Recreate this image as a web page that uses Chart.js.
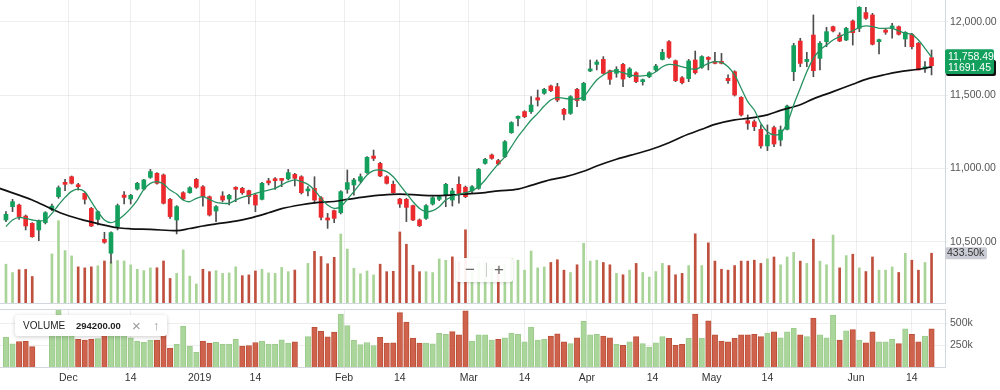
<!DOCTYPE html>
<html>
<head>
<meta charset="utf-8">
<script src="https://cdn.jsdelivr.net/npm/chart.js@4.4.0/dist/chart.umd.min.js"></script>
<style>
  html, body { margin: 0; padding: 0; background: #fff; }
  body { width: 1000px; height: 390px; position: relative; overflow: hidden; font-family: "Liberation Sans", Arial, sans-serif; }
  #priceChart { position: absolute; left: 0; top: 0; }
  #volumeChart { position: absolute; left: 0; top: 305px; }
  .legend-box { position: absolute; left: 15px; top: 315px; width: 152px; height: 21px; background: #fff; border-radius: 3px; box-shadow: 0 1px 4px rgba(0,0,0,0.2); color: #222; }
  .legend-box span { position: absolute; top: 0; line-height: 21px; white-space: nowrap; }
  .zoom-box { position: absolute; left: 456px; top: 258px; width: 57px; height: 24px; background: rgba(255,255,255,0.92); border-radius: 3px; box-shadow: 0 1px 3px rgba(0,0,0,0.15); color: #666; }
  .zoom-box span { position: absolute; top: 0; line-height: 24px; }
</style>
</head>
<body>
<canvas id="priceChart" width="1000" height="304"></canvas>
<canvas id="volumeChart" width="1000" height="85"></canvas>
<div class="legend-box">
  <span style="left:8px;font-size:10px">VOLUME</span>
  <span style="left:61px;font-size:9.5px;font-weight:bold">294200.00</span>
  <span style="left:117px;font-size:15px;color:#999">×</span>
  <span style="left:138px;font-size:13px;color:#999">↑</span>
</div>
<div class="zoom-box">
  <span style="left:9px;font-size:17px">−</span>
  <span style="left:30px;top:5px;width:1px;height:14px;background:#ccc"></span>
  <span style="left:38px;font-size:17px">+</span>
</div>
<script>
// daily candles, one slot per trading day
const opens = [10648,10739,10750,10675,10625,10580,10630,10721,10807,10903,
  10943,10887,10830,10727,10652,10516,10421,10603,10818,10791,
  10859,10859,10939,10966,10955,10789,10648,10834,10834,10925,
  10875,10807,10709,10812,10791,10866,10864,10848,10818,10789,
  10911,10928,10930,10928,10959,10943,10846,10864,10800,10662,
  10712,10698,10857,10887,10914,10971,11084,11034,10943,10891,
  10791,10789,10746,10648,10659,10757,10789,10818,10784,10891,
  10871,10846,10864,11034,11091,11053,11080,11243,11341,11387,
  11387,11482,11512,11562,11557,11403,11375,11539,11466,11664,
  11709,11743,11666,11648,11709,11625,11652,11591,11625,11671,
  11743,11864,11734,11618,11612,11739,11689,11755,11728,11728,
  11614,11659,11484,11325,11318,11266,11153,11278,11193,11266,
  11659,11868,11728,11909,11750,11864,11966,11909,11875,12005,
  11955,12062,12046,11864,11943,11955,11966,11882,11914,11853,
  11678,11755];
const highs = [10705,10789,10757,10682,10630,10648,10705,10757,10880,10925,
  10948,10898,10834,10734,10709,10564,10568,10757,10841,10823,
  10905,10925,10993,10971,10962,10796,10746,10841,10875,10932,
  10882,10812,10746,10841,10823,10875,10871,10852,10825,10905,
  10932,10937,10932,10993,10966,10950,10875,10943,10807,10693,
  10716,10848,10989,10932,10962,11080,11125,11041,10950,10914,
  10796,10796,10750,10655,10753,10807,10814,10898,10864,10943,
  10880,10882,11000,11068,11098,11062,11189,11318,11359,11393,
  11489,11534,11546,11568,11580,11409,11496,11546,11587,11739,
  11739,11762,11671,11693,11716,11687,11659,11609,11659,11709,
  11812,11871,11739,11625,11743,11800,11768,11762,11791,11784,
  11637,11666,11489,11364,11330,11296,11296,11289,11289,11432,
  11853,11887,11791,12046,11864,11962,11971,11925,11962,12012,
  12103,12098,12057,11882,11955,11989,11971,11932,11921,11859,
  11728,11807];
const lows = [10637,10705,10652,10580,10530,10507,10621,10712,10796,10848,
  10893,10852,10757,10603,10614,10489,10353,10580,10757,10757,
  10852,10852,10932,10893,10757,10659,10553,10784,10830,10864,
  10743,10675,10637,10773,10750,10773,10823,10757,10705,10784,
  10887,10857,10875,10921,10880,10825,10812,10762,10648,10591,
  10630,10689,10830,10818,10903,10966,11053,10943,10893,10830,
  10734,10637,10643,10603,10652,10750,10780,10739,10743,10762,
  10800,10834,10857,11028,11062,11023,11073,11239,11289,11346,
  11375,11425,11505,11523,11455,11330,11368,11421,11462,11659,
  11671,11643,11573,11621,11557,11618,11584,11568,11618,11659,
  11739,11750,11591,11575,11591,11643,11682,11671,11712,11712,
  11580,11493,11357,11266,11257,11137,11121,11148,11153,11262,
  11598,11693,11693,11625,11671,11830,11930,11864,11871,11841,
  11932,12016,11841,11780,11914,11887,11909,11830,11814,11671,
  11655,11637];
const closes = [10687,10773,10671,10607,10534,10641,10698,10743,10868,10891,
  10898,10875,10789,10607,10705,10496,10562,10746,10802,10816,
  10898,10921,10978,10898,10762,10671,10739,10791,10868,10871,
  10807,10682,10739,10784,10816,10857,10834,10807,10750,10898,
  10901,10916,10918,10971,10932,10834,10859,10784,10666,10648,
  10659,10841,10903,10921,10943,11075,11068,10948,10898,10834,
  10757,10734,10648,10609,10746,10800,10807,10891,10846,10825,
  10807,10875,10993,11062,11068,11030,11182,11312,11352,11352,
  11432,11466,11539,11530,11466,11368,11489,11462,11580,11678,
  11725,11648,11607,11675,11609,11678,11591,11603,11652,11698,
  11791,11757,11598,11584,11732,11652,11762,11743,11716,11716,
  11598,11500,11364,11307,11284,11153,11228,11166,11262,11425,
  11837,11716,11743,11666,11853,11932,11937,11868,11955,11925,
  12098,12023,11846,11875,11928,11971,11914,11928,11830,11671,
  11693,11700];

// volume per slot (null = no bar) and whether it closed up (1) or down (0)
const volumes = [338000,265000,290000,293000,231000,null,null,427000,717000,457000,
  410000,315000,306000,315000,324000,366000,357000,370000,366000,332000,
  294000,282000,306000,307000,366000,214000,258000,463000,234000,166000,
  294000,273000,282000,258000,262000,315000,238000,245000,279000,294000,
  262000,258000,310000,273000,287000,null,345000,450000,405000,342000,
  398000,601000,470000,303000,255000,279000,245000,338000,273000,276000,
  619000,512000,329000,273000,273000,265000,384000,372000,402000,365000,
  638000,295000,365000,365000,307000,314000,333000,385000,373000,286000,
  453000,306000,314000,353000,377000,286000,266000,333000,520000,365000,
  373000,353000,333000,258000,246000,286000,345000,266000,226000,274000,
  345000,326000,246000,258000,326000,603000,326000,524000,365000,294000,
  286000,326000,365000,365000,373000,345000,385000,401000,333000,401000,
  441000,365000,345000,556000,365000,333000,592000,306000,413000,425000,
  306000,274000,401000,286000,286000,314000,266000,433000,373000,286000,
  353000,433500];
const volUp = [1,1,0,0,0,0,0,1,1,1, 1,0,0,0,1,0,1,1,1,1, 1,1,1,0,0,0,1,1,1,1,
  0,0,1,1,1,1,0,0,0,1, 1,1,1,1,0,0,1,0,0,0, 0,1,1,1,1,1,1,0,0,0,
  0,0,0,0,1,1,1,1,0,0, 0,1,1,1,1,0,1,1,1,1, 1,1,1,0,0,0,1,0,1,1,
  1,0,0,1,0,1,0,1,1,1, 1,0,0,0,1,0,1,0,0,0, 0,0,0,0,0,0,1,0,1,1,
  1,0,1,0,1,1,1,0,1,0, 1,0,0,1,1,1,0,1,0,0, 1,0];

// short moving average (green), one value per slot
const fastMa = [10603,10648,10666,10659,10648,10641,10648,10693,10750,10802,
  10843,10859,10841,10773,10705,10648,10630,10648,10682,10727,
  10784,10857,10898,10909,10893,10852,10825,10784,10773,10796,
  10807,10789,10768,10762,10762,10784,10802,10814,10830,10841,
  10852,10864,10887,10909,10921,10909,10891,10852,10796,10750,
  10727,10739,10789,10841,10898,10955,10984,10989,10978,10943,
  10887,10830,10773,10727,10705,10712,10739,10784,10807,10825,
  10834,10848,10875,10921,10978,11030,11080,11148,11216,11273,
  11330,11375,11425,11466,11484,11477,11473,11473,11489,11546,
  11603,11637,11659,11664,11652,11637,11630,11630,11637,11659,
  11693,11709,11705,11693,11682,11675,11693,11716,11728,11723,
  11693,11637,11546,11455,11398,11307,11250,11228,11239,11307,
  11432,11546,11659,11750,11807,11841,11875,11898,11921,11937,
  11962,11971,11966,11955,11955,11955,11937,11921,11914,11875,
  11818,11758.49];

// long moving average (black), read at these slots
const slowMaSlots = [-1,4,7,9,12,14,17,19,22,26,28,30,32,35,37,40,42,45,47,50,52,55,57,60,63,65,68,70,73,75,
  78,80,83,85,88,90,93,96,98,101,103,106,108,111,113,116,118,121,123,126,129,131,134,136,139,141];
const slowMa = [10864,10784,10722,10685,10645,10623,10595,10588,10584,10575,10590,10607,10621,10640,10659,
  10697,10725,10752,10765,10774,10788,10807,10817,10825,10818,10814,10819,10825,10835,10847,
  10858,10884,10923,10940,10980,11016,11062,11100,11125,11175,11216,11267,11300,11331,11341,
  11365,11395,11434,11474,11523,11574,11607,11640,11658,11676,11691.45];

// axis ticks
const tickSlots = [9.5, 19, 29.5, 38, 51.5, 60, 70.5, 79, 88.5, 98.5, 107.5, 116, 129.5, 138];
const tickLabels = ['Dec', '14', '2019', '14', 'Feb', '14', 'Mar', '14', 'Apr', '14', 'May', '14', 'Jun', '14'];
const priceTicks = [10500, 11000, 11500, 12000];
const volumeTicks = [250000, 500000];

const FONT = '"Liberation Sans", Arial, sans-serif';
Chart.defaults.font.family = FONT;

const upColor = '#12a05c';
const downColor = '#ec2a2e';
const gridColor = 'rgba(0,0,0,0.065)';
const axisColor = '#d3d8de';
const xMin = -0.91, xMax = 143.05;

const slotTicks = s => { s.ticks = tickSlots.map(v => ({ value: v })); };

function roundRect(ctx, x, y, w, h, r, fill) {
  ctx.beginPath();
  ctx.roundRect(x, y, w, h, r);
  ctx.fillStyle = fill;
  ctx.fill();
}

// value tags on the right edge of the price pane
const tagPlugin = {
  id: 'tags',
  afterDraw(chart) {
    const ctx = chart.ctx;
    const y = chart.scales.y;
    const yv = chart.scales.yVol;
    const x0 = chart.chartArea.right;
    const fastLast = fastMa[fastMa.length - 1];
    const slowLast = slowMa[slowMa.length - 1];
    const volLast = volumes[volumes.length - 1];
    const yf = y.getPixelForValue(fastLast);
    const ys = y.getPixelForValue(slowLast);
    const yvol = yv.getPixelForValue(volLast);

    ctx.save();
    roundRect(ctx, x0 + 1, ys - 7, 50, 16, 2, '#111');
    roundRect(ctx, x0, yf - 8, 49, ys - yf + 15, 2, upColor);
    ctx.font = '10.5px ' + FONT;
    ctx.textBaseline = 'middle';
    ctx.fillStyle = '#fff';
    ctx.fillText(fastLast.toLocaleString('en-US', { minimumFractionDigits: 2 }), x0 + 3, yf);
    ctx.fillText(slowLast.toFixed(2), x0 + 3, ys + 1);

    roundRect(ctx, x0, yvol - 6, 42, 12, 2, '#c9ccd4');
    ctx.fillStyle = '#333';
    ctx.fillText((volLast / 1000).toFixed(2) + 'k', x0 + 2, yvol);
    ctx.restore();
  }
};

const topLine = {
  id: 'topLine',
  afterDraw(chart) {
    const { ctx, chartArea } = chart;
    ctx.save();
    ctx.strokeStyle = axisColor;
    ctx.lineWidth = 1;
    ctx.beginPath();
    ctx.moveTo(chartArea.left, chartArea.top + 0.5);
    ctx.lineTo(chartArea.right, chartArea.top + 0.5);
    ctx.stroke();
    ctx.restore();
  }
};

const volPoints = [];
const volPointColors = [];
volumes.forEach((v, i) => {
  if (v !== null) {
    volPoints.push({ x: i, y: v });
    volPointColors.push(volUp[i]);
  }
});

new Chart(document.getElementById('priceChart'), {
  type: 'bar',
  data: {
    datasets: [
      {
        type: 'line', data: fastMa.map((v, i) => ({ x: i, y: v })),
        borderColor: '#259160', borderWidth: 1.3, pointRadius: 0, tension: 0.3,
        yAxisID: 'y', order: 0
      },
      {
        type: 'line', data: slowMaSlots.map((s, i) => ({ x: s, y: slowMa[i] })),
        borderColor: '#111', borderWidth: 1.7, pointRadius: 0, cubicInterpolationMode: 'monotone',
        yAxisID: 'y', order: 1
      },
      {
        data: opens.map((o, i) => ({ x: i, y: [o, closes[i]] })),
        backgroundColor: opens.map((o, i) => closes[i] >= o ? upColor : downColor),
        barThickness: 4, minBarLength: 2, grouped: false, yAxisID: 'y', order: 2
      },
      {
        data: lows.map((l, i) => ({ x: i, y: [l, highs[i]] })),
        backgroundColor: '#4d4d4d', barThickness: 1, grouped: false, yAxisID: 'y', order: 3
      },
      {
        data: volPoints,
        backgroundColor: volPointColors.map(u => u ? '#a9d497' : '#c0503e'),
        barThickness: 2, grouped: false, yAxisID: 'yVol', order: 4
      }
    ]
  },
  options: {
    responsive: false,
    animation: false,
    devicePixelRatio: 1,
    events: [],
    layout: { padding: { top: 0, bottom: 1, left: 0, right: 0 } },
    plugins: { legend: { display: false }, tooltip: { enabled: false } },
    scales: {
      x: {
        type: 'linear', min: xMin, max: xMax, offset: false,
        grid: { color: gridColor, drawTicks: false, offset: false },
        border: { display: true, color: axisColor },
        ticks: { display: false },
        afterBuildTicks: slotTicks,
        afterFit: s => { s.height = 0; s.paddingLeft = 0; s.paddingRight = 0; }
      },
      y: {
        position: 'right', min: 10082, max: 12148,
        grid: { color: gridColor, tickLength: 3 },
        border: { display: true, color: axisColor },
        ticks: {
          color: '#555', padding: 2, font: { size: 10.5 },
          callback: v => v.toLocaleString('en-US', { minimumFractionDigits: 2, maximumFractionDigits: 2 })
        },
        afterBuildTicks: s => { s.ticks = priceTicks.map(v => ({ value: v })); },
        afterFit: s => { s.width = 55; s.paddingTop = 0; s.paddingBottom = 0; }
      },
      yVol: { display: false, min: 0, max: 2640000 }
    }
  },
  plugins: [tagPlugin]
});

new Chart(document.getElementById('volumeChart'), {
  type: 'bar',
  data: {
    datasets: [{
      data: volPoints,
      backgroundColor: volPointColors.map(u => u ? '#aad69b' : '#cf624c'),
      borderColor: volPointColors.map(u => u ? '#9ccb8c' : '#bb5039'),
      borderWidth: 1, barThickness: 5.4, grouped: false
    }]
  },
  options: {
    responsive: false,
    animation: false,
    devicePixelRatio: 1,
    events: [],
    layout: { padding: { top: 4, bottom: 0, left: 0, right: 0 } },
    plugins: { legend: { display: false }, tooltip: { enabled: false } },
    scales: {
      x: {
        type: 'linear', min: xMin, max: xMax, offset: false,
        grid: { color: gridColor, tickLength: 3, offset: false },
        border: { display: true, color: axisColor },
        ticks: {
          autoSkip: false, maxRotation: 0, padding: 2, color: '#333', font: { size: 10.5 },
          callback: (v, i) => tickLabels[i]
        },
        afterBuildTicks: slotTicks,
        afterFit: s => { s.height = 23; s.paddingLeft = 0; s.paddingRight = 0; }
      },
      y: {
        position: 'right', min: 0, max: 660000,
        grid: { color: gridColor, tickLength: 3 },
        border: { display: true, color: axisColor },
        ticks: { color: '#555', padding: 2, font: { size: 10.5 }, callback: v => (v / 1000) + 'k' },
        afterBuildTicks: s => { s.ticks = volumeTicks.map(v => ({ value: v })); },
        afterFit: s => { s.width = 55; s.paddingTop = 0; s.paddingBottom = 0; }
      }
    }
  },
  plugins: [topLine]
});
</script>
</body>
</html>
